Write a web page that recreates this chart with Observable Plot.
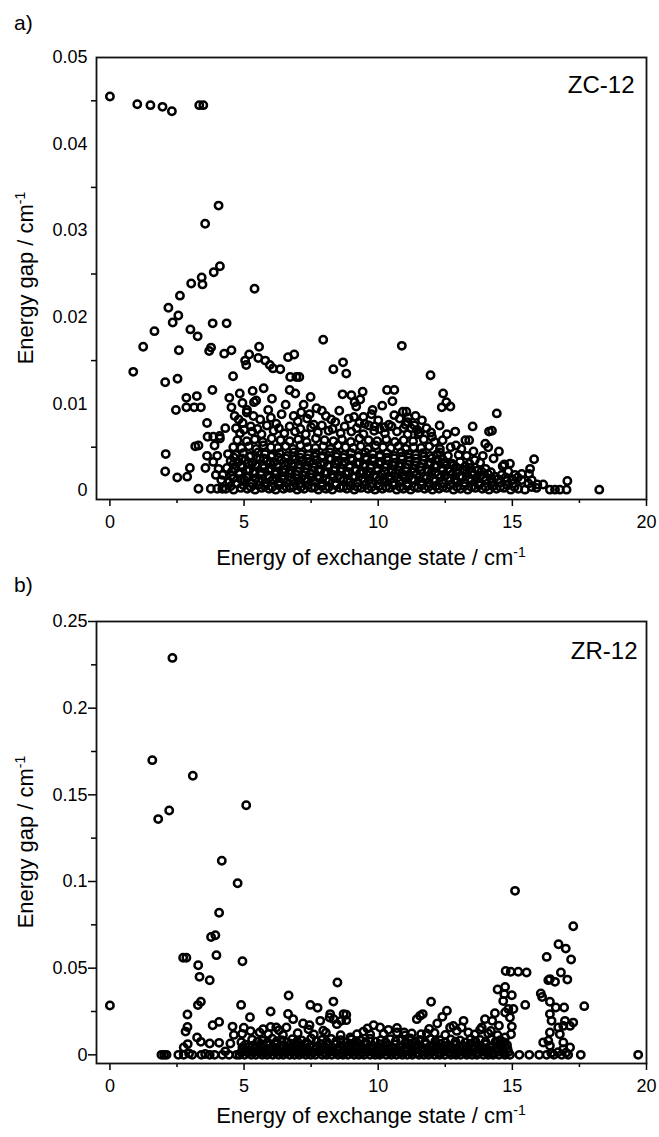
<!DOCTYPE html>
<html>
<head>
<meta charset="utf-8">
<script src="https://cdn.jsdelivr.net/npm/d3@7"></script>
<script src="https://cdn.jsdelivr.net/npm/@observablehq/plot@0.6"></script>
<style>
  body { margin: 0; background: #fff; }
  #wrap { position: relative; width: 659px; height: 1137px; font-family: "Liberation Sans", Arial, sans-serif; color: #000; }
  #wrap svg { position: absolute; left: 0; }
  .tag { position: absolute; left: 14px; font-size: 21px; line-height: 21px; }
  .xtitle { position: absolute; left: 96px; width: 550px; text-align: center; font-size: 22px; line-height: 22px; white-space: nowrap; }
  .ytitle { position: absolute; font-size: 22px; line-height: 22px; white-space: nowrap; transform: translate(-50%, -50%) rotate(-90deg); }
  sup { font-size: 14px; vertical-align: 8px; line-height: 0; }
</style>
</head>
<body>
<div id="wrap"></div>
<script>
// ---- axis ticks ----
const xMajor = [0, 5, 10, 15, 20];
const xMinor = [2.5, 7.5, 12.5, 17.5];
const zcYMajor = [0, 0.01, 0.02, 0.03, 0.04, 0.05];
const zcYMinor = [0.005, 0.015, 0.025, 0.035, 0.045];
const zrYMajor = [0, 0.05, 0.1, 0.15, 0.2, 0.25];
const zrYMinor = [0.025, 0.075, 0.125, 0.175, 0.225];

// ---- ZC-12: [energy of exchange state, energy gap] ----
const zcOuter = [
  [0,0.0455],[1.02,0.0446],[1.51,0.0445],[1.96,0.0443],[2.31,0.0438],[3.33,0.0445],[3.48,0.0445],
  [4.05,0.0329],[3.55,0.0308],[4.10,0.0259],[3.87,0.0252],[3.42,0.0246],[3.45,0.0238],[3.03,0.0239],[2.61,0.0225],[5.39,0.0233],
  [2.18,0.0211],[2.55,0.0202],[2.34,0.0194],[1.66,0.0184],[3.00,0.0186],[3.27,0.0178],[3.83,0.0193],[4.35,0.0193],
  [1.24,0.0166],[2.57,0.0162],[3.77,0.0165],[3.70,0.0161],[4.26,0.0158],[4.53,0.0162],
  [5.19,0.0157],[5.04,0.0150],[5.08,0.0145],[5.56,0.0166],[5.53,0.0153],[5.79,0.0150],[5.96,0.0145],[6.08,0.0141],[6.35,0.0140],[6.64,0.0154],[6.87,0.0157],
  [0.87,0.0137],[2.06,0.0125],[2.52,0.0129],[4.59,0.0132],[6.72,0.0131],[6.95,0.0131],
  [3.82,0.0116],[2.85,0.0107],[3.24,0.0109],[2.46,0.0093],[2.85,0.0096],[3.14,0.0096],[3.39,0.0096],
  [4.45,0.0107],[4.84,0.0112],[5.32,0.0115],[5.73,0.0118],[4.53,0.0096],[4.94,0.0101],[5.37,0.0102],[6.04,0.0106],[6.70,0.0116],[6.91,0.0112],[5.11,0.0093],[5.45,0.0104],
  [3.62,0.0078],[2.08,0.0042],[2.06,0.0022],[2.51,0.0015],[2.88,0.0016],[2.98,0.0026],[3.30,0.0002],[3.76,0.0002],[4.00,0.0002],[4.19,0.0002],
  [3.18,0.0051],[3.30,0.0052],[3.56,0.0026],[3.62,0.0040],[3.64,0.0062],[3.85,0.0062],[4.09,0.0063],
  [7.95,0.0174],[10.88,0.0167],[8.69,0.0148],[8.33,0.0140],[8.81,0.0135],[7.06,0.0131],[11.95,0.0133],
  [7.48,0.0108],[7.22,0.0099],[7.13,0.0090],[7.44,0.0088],[7.90,0.0092],
  [8.67,0.0111],[9.00,0.0110],[9.42,0.0114],[9.33,0.0105],[9.18,0.0097],[9.12,0.0102],
  [10.33,0.0116],[10.60,0.0116],[10.53,0.0103],
  [12.42,0.0112],[12.69,0.0097],[12.37,0.0096],[12.54,0.0102],
  [9.79,0.0093],[10.92,0.0091],[11.39,0.0086],[11.63,0.0081],[11.09,0.0079],[9.45,0.0085],[9.86,0.0074],[10.23,0.0073],[11.12,0.0084],[11.02,0.0076],[11.22,0.0072],
  [13.52,0.0074],[12.29,0.0075],[11.97,0.0067],[12.56,0.0065],[12.87,0.0068],[13.39,0.0058],[13.99,0.0054],[14.13,0.0068],[14.42,0.0089],[14.24,0.0069],
  [15.81,0.0036],[14.91,0.0031],[14.64,0.0028],[15.66,0.0025],[15.62,0.0019],[15.35,0.0019],[15.20,0.0015],
  [17.05,0.0011],[17.02,0.0001],[16.77,0.0001],[16.59,0.0001],[16.40,0.0001],[16.15,0.0007],[15.93,0.0007],[15.72,0.0004],[15.72,0.0012],[18.24,0.0001],
  [4.95,0.0078],[5.60,0.0082],[6.20,0.0077],[6.40,0.0088],[7.00,0.0080],[7.60,0.0076],[8.05,0.0086],[8.40,0.0079],[8.90,0.0083],[9.50,0.0077],
  [10.00,0.0081],[10.40,0.0076],[10.80,0.0083],[11.35,0.0075],[11.80,0.0072],[5.10,0.0090],[5.90,0.0093],[6.55,0.0099],[7.70,0.0095],[8.55,0.0092],
  [9.75,0.0088],[10.15,0.0098],[11.05,0.0091],[4.65,0.0086],[4.30,0.0072],[4.10,0.0060],[3.90,0.0052],[4.00,0.0040],[3.85,0.0033],[4.05,0.0025],
  [4.15,0.0012],[3.95,0.0018],
  [13.10,0.0048],[13.55,0.0045],[13.90,0.0040],[14.30,0.0037],[14.50,0.0045],[14.70,0.0030],[14.85,0.0022],[15.10,0.0018],[15.35,0.0012],[15.60,0.0008],
  [15.90,0.0003],[12.90,0.0052],[13.25,0.0058],[14.10,0.0050],
  [4.70,0.0072],[5.00,0.0070],[5.25,0.0074],[5.50,0.0071],[5.85,0.0075],[6.30,0.0072],[6.70,0.0074],[7.10,0.0071],[7.50,0.0073],[7.90,0.0075],
  [8.30,0.0071],[8.75,0.0074],[9.20,0.0072],[9.65,0.0075],[10.05,0.0071],[10.50,0.0074],[10.95,0.0072],[11.45,0.0070],[12.00,0.0062],[12.40,0.0058],
  [4.80,0.0082],[5.35,0.0086],[6.00,0.0084],[6.85,0.0086],[7.35,0.0083],[8.25,0.0082],[9.10,0.0085],[9.30,0.0078],[10.60,0.0087],[11.50,0.0065],
  [12.70,0.0050],[13.30,0.0040],[12.30,0.0044],[13.60,0.0035]
];
const zcCore = [
  [4.32,0.0002],[4.61,0.0001],[4.88,0.0003],[5.12,0.0002],[5.41,0.0001],[5.66,0.0003],[5.93,0.0002],[6.18,0.0001],[6.47,0.0002],[6.71,0.0003],
  [6.98,0.0001],[7.24,0.0002],[7.52,0.0003],[7.77,0.0001],[8.05,0.0002],[8.29,0.0001],[8.58,0.0003],[8.83,0.0002],[9.11,0.0001],[9.36,0.0003],
  [9.62,0.0002],[9.88,0.0001],[10.16,0.0002],[10.42,0.0003],[10.69,0.0001],[10.94,0.0002],[11.21,0.0001],[11.48,0.0003],[11.73,0.0002],[12.02,0.0001],
  [12.27,0.0002],[12.55,0.0003],[12.81,0.0001],[13.07,0.0002],[13.34,0.0001],[13.62,0.0003],[13.88,0.0002],[14.13,0.0001],[14.41,0.0002],[14.68,0.0003],
  [14.94,0.0001],[15.22,0.0002],[15.47,0.0001],
  [4.50,0.0005],[4.98,0.0006],[5.25,0.0004],[5.78,0.0005],[6.30,0.0006],[6.58,0.0004],[6.84,0.0005],[7.38,0.0006],[7.63,0.0004],[7.90,0.0005],
  [8.42,0.0006],[8.70,0.0004],[8.97,0.0005],[9.50,0.0006],[9.75,0.0004],[10.03,0.0005],[10.56,0.0006],[10.82,0.0004],[11.08,0.0005],[11.62,0.0006],
  [11.87,0.0004],[12.15,0.0005],[12.68,0.0006],[12.94,0.0004],[13.21,0.0005],[13.75,0.0006],[14.00,0.0004],[14.27,0.0005],[14.82,0.0006],[15.08,0.0004],
  [5.52,0.0006],[6.05,0.0004],[7.12,0.0004],[8.16,0.0004],[9.23,0.0004],[10.29,0.0004],[11.35,0.0004],[12.41,0.0004],[13.48,0.0004],[14.55,0.0004],
  [4.45,0.0010],[4.74,0.0008],[5.01,0.0012],[5.27,0.0009],[5.55,0.0011],[5.80,0.0008],[6.06,0.0012],[6.33,0.0010],[6.58,0.0009],[6.85,0.0011],
  [7.11,0.0008],[7.37,0.0012],[7.64,0.0010],[7.90,0.0009],[8.17,0.0011],[8.43,0.0008],[8.70,0.0012],[8.96,0.0010],[9.23,0.0009],[9.49,0.0011],
  [9.75,0.0008],[10.02,0.0012],[10.29,0.0010],[10.55,0.0009],[10.82,0.0011],[11.08,0.0008],[11.35,0.0012],[11.61,0.0010],[11.88,0.0009],[12.14,0.0011],
  [12.41,0.0008],[12.68,0.0012],[12.94,0.0010],[13.20,0.0009],[13.47,0.0011],[13.74,0.0008],[14.00,0.0012],[14.27,0.0010],[14.54,0.0009],[14.80,0.0011],
  [15.05,0.0008],
  [4.60,0.0014],[4.88,0.0013],[5.15,0.0015],[5.42,0.0014],[5.68,0.0013],[5.95,0.0015],[6.20,0.0014],[6.47,0.0013],[6.74,0.0015],[7.00,0.0014],
  [7.27,0.0013],[7.53,0.0015],[7.80,0.0014],[8.06,0.0013],[8.33,0.0015],[8.60,0.0014],[8.86,0.0013],[9.13,0.0015],[9.40,0.0014],[9.66,0.0013],
  [9.93,0.0015],[10.20,0.0014],[10.46,0.0013],[10.73,0.0015],[11.00,0.0014],[11.26,0.0013],[11.53,0.0015],[11.80,0.0014],[12.06,0.0013],[12.33,0.0015],
  [12.60,0.0014],[12.86,0.0013],[13.13,0.0015],[13.40,0.0014],[13.66,0.0013],[13.93,0.0015],[14.20,0.0014],[14.47,0.0013],[14.75,0.0015],[15.00,0.0013],
  [4.20,0.0018],[4.52,0.0017],[4.81,0.0019],[5.08,0.0016],[5.34,0.0020],[5.62,0.0018],[5.88,0.0017],[6.14,0.0019],[6.41,0.0016],[6.67,0.0020],
  [6.94,0.0018],[7.20,0.0017],[7.47,0.0019],[7.73,0.0016],[8.00,0.0020],[8.26,0.0018],[8.52,0.0017],[8.79,0.0019],[9.05,0.0016],[9.32,0.0020],
  [9.58,0.0018],[9.85,0.0017],[10.11,0.0019],[10.38,0.0016],[10.64,0.0020],[10.91,0.0018],[11.17,0.0017],[11.44,0.0019],[11.70,0.0016],[11.97,0.0020],
  [12.23,0.0018],[12.50,0.0017],[12.76,0.0019],[13.03,0.0016],[13.29,0.0020],[13.56,0.0018],[13.82,0.0017],[14.09,0.0019],[14.35,0.0016],[14.60,0.0018],
  [4.55,0.0022],[4.83,0.0021],[5.10,0.0023],[5.38,0.0022],[5.65,0.0021],[5.92,0.0023],[6.19,0.0022],[6.46,0.0021],[6.73,0.0023],[7.00,0.0022],
  [7.27,0.0021],[7.54,0.0023],[7.81,0.0022],[8.08,0.0021],[8.35,0.0023],[8.62,0.0022],[8.89,0.0021],[9.16,0.0023],[9.43,0.0022],[9.70,0.0021],
  [9.97,0.0023],[10.24,0.0022],[10.51,0.0021],[10.78,0.0023],[11.05,0.0022],[11.32,0.0021],[11.59,0.0023],[11.86,0.0022],[12.13,0.0021],[12.40,0.0023],
  [12.67,0.0022],[12.94,0.0021],[13.21,0.0023],[13.50,0.0021],[13.85,0.0022],[14.20,0.0021],
  [4.36,0.0026],[4.66,0.0025],[4.94,0.0027],[5.20,0.0024],[5.48,0.0028],[5.74,0.0026],[6.01,0.0025],[6.27,0.0027],[6.54,0.0024],[6.80,0.0028],
  [7.06,0.0026],[7.33,0.0025],[7.60,0.0027],[7.86,0.0024],[8.12,0.0028],[8.39,0.0026],[8.65,0.0025],[8.92,0.0027],[9.18,0.0024],[9.45,0.0028],
  [9.71,0.0026],[9.98,0.0025],[10.24,0.0027],[10.51,0.0024],[10.77,0.0028],[11.04,0.0026],[11.30,0.0025],[11.57,0.0027],[11.83,0.0024],[12.10,0.0028],
  [12.36,0.0026],[12.63,0.0025],[12.90,0.0027],[13.16,0.0024],[13.43,0.0026],[13.70,0.0023],[14.00,0.0025],
  [4.60,0.0030],[4.88,0.0029],[5.15,0.0031],[5.43,0.0030],[5.70,0.0029],[5.97,0.0031],[6.24,0.0030],[6.51,0.0029],[6.78,0.0031],[7.05,0.0030],
  [7.32,0.0029],[7.59,0.0031],[7.86,0.0030],[8.13,0.0029],[8.40,0.0031],[8.67,0.0030],[8.94,0.0029],[9.21,0.0031],[9.48,0.0030],[9.75,0.0029],
  [10.02,0.0031],[10.29,0.0030],[10.56,0.0029],[10.83,0.0031],[11.10,0.0030],[11.37,0.0029],[11.64,0.0031],[11.91,0.0030],[12.18,0.0029],[12.45,0.0031],
  [12.80,0.0029],[13.25,0.0028],
  [4.50,0.0034],[4.78,0.0033],[5.05,0.0035],[5.31,0.0032],[5.59,0.0036],[5.85,0.0034],[6.12,0.0033],[6.39,0.0035],[6.65,0.0032],[6.92,0.0036],
  [7.18,0.0034],[7.45,0.0033],[7.71,0.0035],[7.98,0.0032],[8.24,0.0036],[8.51,0.0034],[8.77,0.0033],[9.04,0.0035],[9.30,0.0032],[9.57,0.0036],
  [9.83,0.0034],[10.10,0.0033],[10.36,0.0035],[10.63,0.0032],[10.89,0.0036],[11.16,0.0034],[11.42,0.0033],[11.69,0.0035],[11.95,0.0032],[12.22,0.0035],
  [12.48,0.0033],[12.75,0.0031],[13.05,0.0033],[13.40,0.0031],[13.80,0.0032],
  [4.62,0.0038],[4.92,0.0037],[5.20,0.0039],[5.47,0.0038],[5.74,0.0037],[6.01,0.0039],[6.28,0.0038],[6.55,0.0037],[6.82,0.0039],[7.09,0.0038],
  [7.36,0.0037],[7.63,0.0039],[7.90,0.0038],[8.17,0.0037],[8.44,0.0039],[8.71,0.0038],[8.98,0.0037],[9.25,0.0039],[9.52,0.0038],[9.79,0.0037],
  [10.06,0.0039],[10.33,0.0038],[10.60,0.0037],[10.87,0.0039],[11.14,0.0038],[11.41,0.0037],[11.70,0.0039],[12.00,0.0037],[12.40,0.0036],
  [4.40,0.0042],[4.70,0.0041],[4.97,0.0043],[5.25,0.0040],[5.52,0.0044],[5.78,0.0042],[6.05,0.0041],[6.32,0.0043],[6.60,0.0040],[6.86,0.0044],
  [7.13,0.0042],[7.40,0.0041],[7.67,0.0043],[7.93,0.0040],[8.20,0.0044],[8.47,0.0042],[8.73,0.0041],[9.00,0.0043],[9.27,0.0040],[9.53,0.0044],
  [9.80,0.0042],[10.06,0.0041],[10.33,0.0043],[10.60,0.0040],[10.86,0.0044],[11.13,0.0042],[11.40,0.0041],[11.66,0.0043],[11.93,0.0040],[12.20,0.0042],
  [12.60,0.0040],[13.00,0.0041],
  [4.60,0.0050],[4.90,0.0049],[5.18,0.0051],[5.45,0.0048],[5.72,0.0052],[6.00,0.0050],[6.26,0.0049],[6.55,0.0051],[6.83,0.0048],[7.10,0.0052],
  [7.38,0.0050],[7.66,0.0049],[7.95,0.0051],[8.22,0.0048],[8.50,0.0052],[8.78,0.0050],[9.07,0.0049],[9.35,0.0051],[9.62,0.0048],[9.90,0.0052],
  [10.18,0.0050],[10.47,0.0049],[10.75,0.0051],[11.03,0.0048],[11.32,0.0050],[11.60,0.0049],[11.90,0.0051],[12.30,0.0048],
  [4.75,0.0058],[5.10,0.0057],[5.40,0.0059],[5.70,0.0056],[6.03,0.0060],[6.36,0.0058],[6.70,0.0057],[7.02,0.0059],[7.33,0.0056],[7.68,0.0060],
  [8.00,0.0058],[8.33,0.0057],[8.65,0.0059],[8.98,0.0056],[9.30,0.0060],[9.64,0.0058],[9.96,0.0057],[10.30,0.0059],[10.62,0.0056],[10.95,0.0058],
  [11.30,0.0057],[11.70,0.0059],[12.10,0.0056],
  [4.85,0.0066],[5.30,0.0068],[5.65,0.0065],[6.10,0.0069],[6.50,0.0066],[6.90,0.0068],[7.30,0.0065],[7.75,0.0067],[8.15,0.0069],[8.60,0.0066],
  [9.00,0.0068],[9.45,0.0065],[9.85,0.0069],[10.25,0.0066],[10.70,0.0068],[11.10,0.0065],[11.55,0.0067]
];

// ---- ZR-12: [energy of exchange state, energy gap] ----
const zrOuter = [
  [0,0.0285],[2.33,0.229],[1.58,0.170],[3.09,0.161],[2.21,0.141],[1.80,0.136],[5.08,0.144],
  [4.17,0.112],[4.76,0.099],[4.07,0.082],[3.93,0.069],[3.77,0.068],[3.97,0.0575],[2.73,0.056],[2.85,0.056],[4.94,0.054],[3.29,0.0517],[3.34,0.045],[3.72,0.043],
  [3.28,0.0287],[3.39,0.0306],[4.89,0.0288],[2.89,0.0233],[5.22,0.0217],[5.99,0.025],[6.66,0.0342],[6.64,0.0236],[7.47,0.0288],[7.74,0.0271],[8.48,0.0417],[8.33,0.0307],
  [2.89,0.0161],[2.82,0.0134],[3.83,0.0171],[4.07,0.019],[3.25,0.010],[3.39,0.0075],[2.90,0.0062],[2.75,0.0042],[3.72,0.0065],[4.07,0.0069],
  [4.57,0.0163],[4.62,0.0115],[4.93,0.0121],[4.99,0.0156],[5.24,0.0137],[4.49,0.0065],[4.90,0.0073],[4.94,0.0042],
  [1.92,0],[2.11,0],[2.02,0],[2.55,0],[2.75,0],[3.07,0],[3.41,0],[3.72,0],[3.90,0],[4.19,0],[4.44,0],[4.72,0],[3.55,0.0005],[2.95,0.0008],[4.30,0.002],
  [5.58,0.0129],[5.71,0.0148],[5.99,0.0161],[6.20,0.0158],[6.58,0.0158],[6.83,0.0206],[7.20,0.0181],[7.44,0.0171],[7.84,0.0196],[8.19,0.0215],[8.34,0.0206],[8.62,0.0196],[8.81,0.0231],
  [15.10,0.0946],[17.27,0.0742],[16.72,0.0638],[16.99,0.0613],[16.28,0.0565],[17.19,0.055],[14.75,0.0484],[14.94,0.0479],[15.22,0.0479],[15.53,0.0475],
  [16.81,0.0475],[16.40,0.0437],[16.34,0.0431],[16.59,0.0421],[17.05,0.0434],
  [14.45,0.0377],[14.73,0.0392],[14.70,0.035],[14.98,0.0344],[16.06,0.0354],[16.11,0.0334],[16.40,0.0306],[16.62,0.0273],[16.93,0.0273],[17.68,0.0281],[15.48,0.0288],[11.97,0.0306],
  [14.66,0.0311],[14.85,0.0264],[15.04,0.0264],[14.73,0.0244],[14.91,0.0215],
  [12.56,0.0254],[12.39,0.0219],[11.56,0.0225],[11.66,0.0235],[11.44,0.0206],
  [8.21,0.0235],[8.71,0.0235],[8.81,0.020],[8.46,0.0177],
  [14.35,0.024],[13.98,0.0206],[14.25,0.0196],[13.86,0.0158],[13.18,0.0196],[12.80,0.0167],[12.93,0.0138],[12.68,0.0158],[13.11,0.0158],[13.36,0.0129],
  [9.83,0.0171],[10.07,0.0158],[10.38,0.0144],[10.70,0.0129],[10.97,0.0129],[11.25,0.0123],[11.81,0.0123],[9.45,0.0134],[9.21,0.0119],[8.96,0.010],
  [16.40,0.0129],[16.34,0.0081],[16.77,0.0119],[16.90,0.0167],[16.71,0.0158],[17.27,0.0186],[17.15,0.0167],[16.96,0.0196],[16.46,0.0196],[16.40,0.0235],
  [16.15,0.0071],[16.40,0.0052],[16.90,0.0071],[17.15,0.0042],[16.90,0.0033],
  [14.91,0],[15.26,0],[15.63,0],[16.00,0],[16.28,0],[16.55,0],[16.84,0],[17.08,0],[17.55,0],[19.69,0],[16.45,0.001],[16.70,0.0015],[17.00,0.0012],
  [14.98,0.0163],[14.95,0.0119],[14.73,0.010]
];
const zrCore = [
  [4.83,0],[5.02,0],[5.27,0],[5.44,0],[5.68,0],[5.86,0],[6.07,0],[6.29,0],[6.46,0],[6.70,0],
  [6.88,0],[7.06,0],[7.30,0],[7.49,0],[7.66,0],[7.91,0],[8.08,0],[8.27,0],[8.50,0],[8.69,0],
  [8.87,0],[9.10,0],[9.28,0],[9.47,0],[9.70,0],[9.89,0],[10.06,0],[10.30,0],[10.49,0],[10.68,0],
  [10.90,0],[11.08,0],[11.27,0],[11.52,0],[11.70,0],[11.88,0],[12.10,0],[12.29,0],[12.48,0],[12.71,0],
  [12.90,0],[13.07,0],[13.30,0],[13.50,0],[13.68,0],[13.92,0],[14.10,0],[14.28,0],[14.50,0],[14.72,0],
  [4.90,0.0015],[5.15,0.0012],[5.36,0.0018],[5.56,0.0014],[5.77,0.0011],[5.97,0.0017],[6.17,0.0013],[6.37,0.0016],[6.57,0.0012],[6.78,0.0018],
  [6.98,0.0014],[7.18,0.0011],[7.38,0.0017],[7.58,0.0013],[7.79,0.0016],[7.99,0.0012],[8.19,0.0018],[8.39,0.0014],[8.60,0.0011],[8.80,0.0017],
  [9.00,0.0013],[9.20,0.0016],[9.40,0.0012],[9.61,0.0018],[9.81,0.0014],[10.01,0.0011],[10.21,0.0017],[10.42,0.0013],[10.62,0.0016],[10.82,0.0012],
  [11.02,0.0018],[11.22,0.0014],[11.43,0.0011],[11.63,0.0017],[11.83,0.0013],[12.03,0.0016],[12.24,0.0012],[12.44,0.0018],[12.64,0.0014],[12.84,0.0011],
  [13.05,0.0017],[13.25,0.0013],[13.45,0.0016],[13.65,0.0012],[13.86,0.0018],[14.06,0.0014],[14.26,0.0011],[14.46,0.0017],[14.67,0.0013],[14.85,0.0016],
  [4.95,0.0030],[5.18,0.0025],[5.39,0.0035],[5.60,0.0030],[5.80,0.0022],[6.02,0.0033],[6.22,0.0027],[6.44,0.0036],[6.63,0.0024],[6.84,0.0031],
  [7.03,0.0028],[7.26,0.0035],[7.45,0.0023],[7.67,0.0032],[7.87,0.0027],[8.10,0.0034],[8.30,0.0024],[8.52,0.0031],[8.72,0.0028],[8.94,0.0035],
  [9.14,0.0023],[9.36,0.0032],[9.56,0.0027],[9.78,0.0034],[9.98,0.0024],[10.20,0.0031],[10.40,0.0028],[10.61,0.0035],[10.82,0.0023],[11.03,0.0032],
  [11.24,0.0027],[11.45,0.0034],[11.66,0.0024],[11.87,0.0031],[12.08,0.0028],[12.30,0.0035],[12.50,0.0023],[12.72,0.0032],[12.92,0.0027],[13.14,0.0034],
  [13.35,0.0024],[13.56,0.0031],[13.78,0.0028],[13.98,0.0035],[14.20,0.0023],[14.42,0.0032],[14.62,0.0027],[14.82,0.0034],
  [5.20,0.0045],[5.48,0.0042],[5.75,0.0047],[6.03,0.0043],[6.31,0.0046],[6.60,0.0041],[6.88,0.0047],[7.15,0.0044],[7.44,0.0046],[7.72,0.0042],
  [8.00,0.0047],[8.27,0.0043],[8.55,0.0046],[8.82,0.0041],[9.10,0.0047],[9.38,0.0044],[9.66,0.0046],[9.94,0.0042],[10.22,0.0047],[10.50,0.0043],
  [10.78,0.0046],[11.06,0.0041],[11.34,0.0047],[11.62,0.0044],[11.90,0.0046],[12.18,0.0042],[12.46,0.0047],[12.74,0.0043],[13.02,0.0046],[13.30,0.0041],
  [13.58,0.0047],[13.86,0.0044],[14.14,0.0046],[14.42,0.0042],[14.70,0.0047],
  [5.05,0.0058],[5.33,0.0052],[5.62,0.0063],[5.90,0.0055],[6.17,0.0061],[6.45,0.0053],[6.74,0.0064],[7.00,0.0056],[7.30,0.0060],[7.58,0.0051],
  [7.85,0.0063],[8.13,0.0057],[8.40,0.0061],[8.68,0.0052],[8.95,0.0064],[9.23,0.0055],[9.52,0.0059],[9.80,0.0053],[10.08,0.0062],[10.36,0.0056],
  [10.63,0.0060],[10.92,0.0052],[11.20,0.0064],[11.48,0.0057],[11.76,0.0061],[12.04,0.0053],[12.32,0.0063],[12.60,0.0055],[12.88,0.0060],[13.16,0.0052],
  [13.44,0.0064],[13.72,0.0056],[14.00,0.0061],[14.28,0.0053],[14.56,0.0062],[14.80,0.0057],
  [5.50,0.0075],[5.88,0.0072],[6.22,0.0078],[6.60,0.0073],[6.98,0.0077],[7.33,0.0071],[7.70,0.0078],[8.08,0.0074],[8.43,0.0077],[8.80,0.0072],
  [9.18,0.0078],[9.53,0.0073],[9.90,0.0076],[10.28,0.0071],[10.65,0.0078],[11.03,0.0074],[11.38,0.0077],[11.75,0.0072],[12.13,0.0078],[12.50,0.0073],
  [12.88,0.0076],[13.25,0.0071],[13.62,0.0078],[14.00,0.0074],[14.38,0.0077],[14.70,0.0072],
  [5.30,0.0088],[5.70,0.0082],[6.05,0.0093],[6.40,0.0085],[6.80,0.0090],[7.15,0.0083],[7.50,0.0094],[7.90,0.0086],[8.25,0.0091],[8.60,0.0084],
  [9.00,0.0089],[9.35,0.0082],[9.70,0.0093],[10.10,0.0085],[10.45,0.0090],[10.85,0.0083],[11.20,0.0094],[11.55,0.0086],[11.95,0.0091],[12.30,0.0084],
  [12.70,0.0089],[13.05,0.0083],[13.45,0.0092],[13.80,0.0086],[14.20,0.0090],[14.55,0.0084],
  [5.90,0.0120],[6.45,0.0115],[7.00,0.0125],[7.60,0.0118],[8.05,0.0128],[8.60,0.0113],[9.70,0.0118],[10.20,0.0121],[11.00,0.0112],[11.60,0.0119],
  [12.10,0.0126],[12.50,0.0114],[13.60,0.0118],[14.10,0.0123],[14.45,0.0113],[6.30,0.0142],[7.40,0.0147],[7.95,0.0139],[11.90,0.0149],[12.20,0.0181],
  [13.80,0.0145],[14.50,0.0168],[14.20,0.0138],[10.70,0.0155],[9.60,0.0152]
];

const zcPoints = zcCore.concat(zcOuter);
const zrPoints = zrCore.concat(zrOuter);

const fmtY = d => String(+d.toFixed(3));
const font = '"Liberation Sans", Arial, sans-serif';

function scatter({points, name, yDomain, yMajor, yMinor, majorTick, height, top, marginTop, marginBottom, nameDx, nameDy}) {
  const svg = Plot.plot({
    width: 659,
    height,
    marginLeft: 96,
    marginRight: 13,
    marginTop,
    marginBottom,
    style: {fontFamily: font, fontSize: "18px", color: "#000", background: "transparent", overflow: "visible"},
    x: {domain: [-0.5, 20]},
    y: {domain: yDomain},
    marks: [
      Plot.axisX({ticks: xMajor, tickSize: 7, tickPadding: 9, label: null, strokeWidth: 1.5, fontSize: 18}),
      Plot.axisX({ticks: xMinor, tickSize: 4, tickFormat: () => "", label: null, strokeWidth: 1.5}),
      Plot.axisY({ticks: yMajor, tickSize: majorTick, tickPadding: majorTick ? 1 : 9, tickFormat: fmtY, label: null, strokeWidth: 1.5, fontSize: 18}),
      Plot.axisY({ticks: yMinor, tickSize: 5, tickFormat: () => "", label: null, strokeWidth: 1.5}),
      Plot.dot(points, {x: d => d[0], y: d => d[1], r: 3.7, stroke: "#000", strokeWidth: 2.5, fill: "none"}),
      Plot.frame({stroke: "#111", strokeWidth: 1.8}),
      Plot.text([name], {text: d => d, frameAnchor: "top-right", textAnchor: "end", lineAnchor: "top", dx: nameDx, dy: nameDy, fontSize: 24})
    ]
  });
  svg.style.top = top + "px";
  return svg;
}

const wrap = document.getElementById("wrap");

wrap.append(scatter({
  points: zcPoints, name: "ZC-12", yDomain: [-0.00104, 0.05], yMajor: zcYMajor, yMinor: zcYMinor,
  majorTick: 0, height: 565, top: 0, marginTop: 57, marginBottom: 66, nameDx: -12, nameDy: 18
}));
wrap.append(scatter({
  points: zrPoints, name: "ZR-12", yDomain: [-0.005, 0.25], yMajor: zrYMajor, yMinor: zrYMinor,
  majorTick: 8, height: 572, top: 565, marginTop: 56, marginBottom: 74, nameDx: -9, nameDy: 20
}));

// panel tags and axis titles
const html = `
  <div class="tag" style="top:12px">a)</div>
  <div class="tag" style="top:574px">b)</div>
  <div class="xtitle" style="top:547px">Energy of exchange state / cm<sup>-1</sup></div>
  <div class="xtitle" style="top:1105px">Energy of exchange state / cm<sup>-1</sup></div>
  <div class="ytitle" style="left:26px;top:278px">Energy gap / cm<sup>-1</sup></div>
  <div class="ytitle" style="left:26px;top:842px">Energy gap / cm<sup>-1</sup></div>`;
wrap.insertAdjacentHTML("beforeend", html);
</script>
</body>
</html>
